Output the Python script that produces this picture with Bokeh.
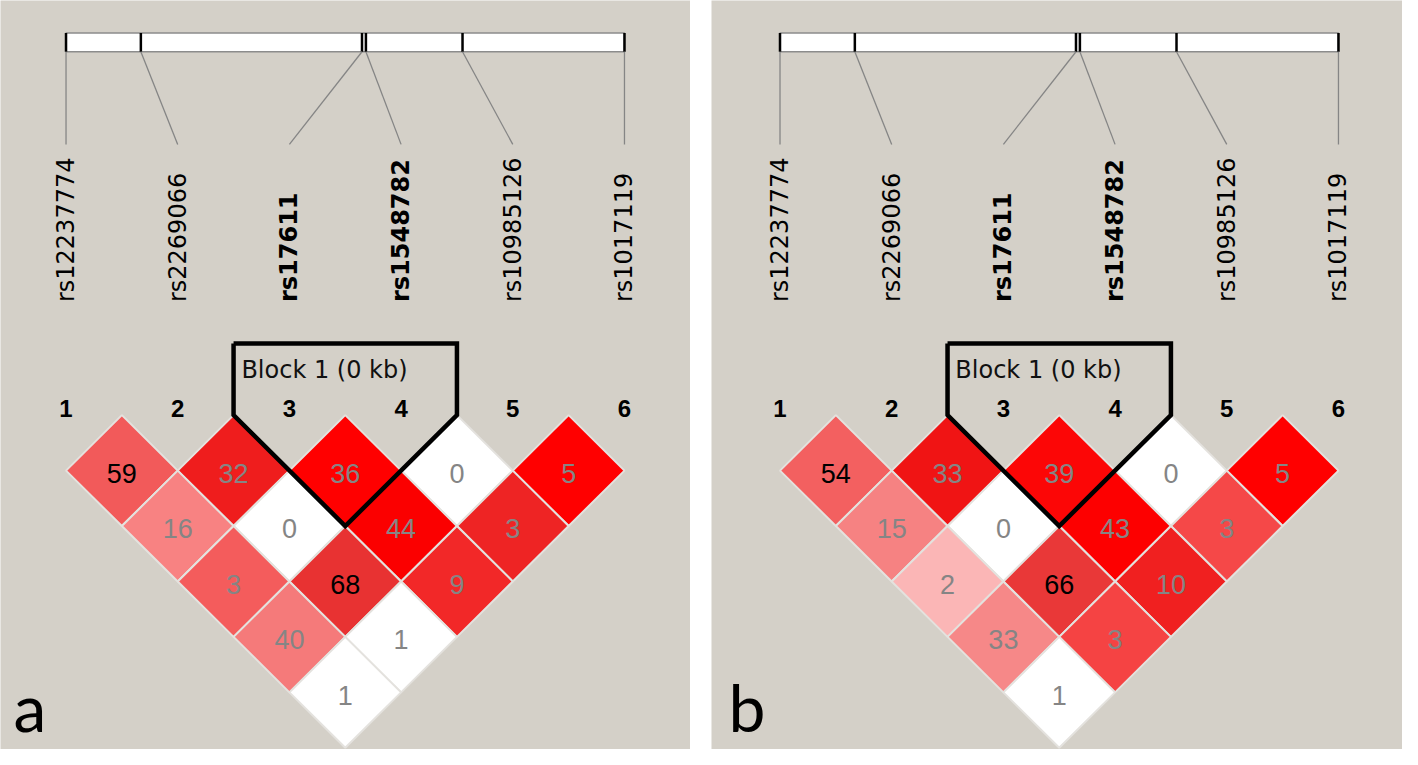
import math
from bokeh.plotting import figure
from bokeh.layouts import row
from bokeh.core.properties import value
from bokeh.embed import file_html
from bokeh.resources import INLINE

# ---------------- data ----------------
snp_index = [1, 2, 3, 4, 5, 6]
snp_names = ["rs12237774", "rs2269066", "rs17611", "rs1548782", "rs10985126", "rs1017119"]
snp_in_block = [False, False, True, True, False, False]
# relative physical position of each marker along the region bar (0 = first, 1 = last)
snp_pos_frac = [0.0, 0.134, 0.530, 0.537, 0.710, 1.0]

pair_i = [1, 2, 3, 4, 5, 1, 2, 3, 4, 1, 2, 3, 1, 2, 1]
pair_j = [2, 3, 4, 5, 6, 3, 4, 5, 6, 4, 5, 6, 5, 6, 6]

ld_a = [59, 32, 36, 0, 5, 16, 0, 44, 3, 3, 68, 9, 40, 1, 1]
ld_color_a = ["#f25a5a", "#ef1d1d", "#ff0000", "#ffffff", "#ff0000",
              "#f88282", "#ffffff", "#fb0000", "#ee2424",
              "#f45c5c", "#e83232", "#f22828",
              "#f57a7a", "#ffffff",
              "#ffffff"]

ld_b = [54, 33, 39, 0, 5, 15, 0, 43, 3, 2, 66, 10, 33, 3, 1]
ld_color_b = ["#f36060", "#f01414", "#fc0606", "#ffffff", "#ff0000",
              "#f68282", "#ffffff", "#fd0000", "#f54848",
              "#fbb6b6", "#e93838", "#f02020",
              "#f68888", "#f54343",
              "#ffffff"]

block_snps = [3, 4]
block_label = "Block 1 (0 kb)"
panel_letters = ["a", "b"]

# ---------------- style / layout ----------------
GRAY = "#d4d0c8"
STEP = 112.5          # reference pixels per marker step
Y0 = 422.75           # reference pixel row of y = 0


def uy(py):
    return (Y0 - py) / STEP


def make_panel(ld, colors, x0_px, x1_px, snp1_px, width, letter, letter_px):
    def ux(px):
        return 1 + (px - snp1_px) / STEP

    p = figure(width=width, height=749,
               x_range=(ux(x0_px), ux(x1_px)), y_range=(uy(762), uy(2)),
               output_backend="svg", toolbar_location=None, min_border=0,
               background_fill_color=GRAY, border_fill_color=GRAY,
               outline_line_color=None)
    p.axis.visible = False
    p.grid.visible = False

    # ---- region bar with marker ticks ----
    bar_top, bar_bot = uy(35), uy(54)
    bar_x = [snp_index[0] + f * (snp_index[-1] - snp_index[0]) for f in snp_pos_frac]
    p.quad(left=[snp_index[0]], right=[snp_index[-1]], bottom=[bar_bot], top=[bar_top],
           fill_color="white", line_color="#8c8c8c", line_width=1.5)
    p.segment(x0=bar_x, y0=[bar_bot] * 6, x1=bar_x, y1=[bar_top] * 6,
              line_color="black", line_width=2.5)
    # connectors to labels
    p.segment(x0=bar_x, y0=[bar_bot] * 6, x1=snp_index, y1=[uy(148)] * 6,
              line_color="#858585", line_width=1.3)

    # ---- marker names (rotated) ----
    for bold in (False, True):
        xs = [x for x, b in zip(snp_index, snp_in_block) if b == bold]
        tx = [t for t, b in zip(snp_names, snp_in_block) if b == bold]
        p.text(x=xs, y=[uy(308)] * len(xs), text=tx, angle=math.pi / 2,
               text_align="left", text_baseline="middle",
               text_font=value("DejaVu Sans"), text_font_size="24px",
               text_font_style="bold" if bold else "normal", text_color="black")

    # ---- marker numbers ----
    p.text(x=snp_index, y=[uy(416)] * 6, text=[str(i) for i in snp_index],
           text_align="center", text_baseline="middle",
           text_font=value("Liberation Sans"), text_font_size="24px",
           text_font_style="bold", text_color="black")

    # ---- LD diamonds ----
    cx = [(i + j) / 2 for i, j in zip(pair_i, pair_j)]
    cy = [-(j - i) / 2 for i, j in zip(pair_i, pair_j)]
    xs = [[x - 0.5, x, x + 0.5, x] for x in cx]
    ys = [[y, y + 0.5, y, y - 0.5] for y in cy]
    p.patches(xs=xs, ys=ys, fill_color=colors, line_color="#e4e2de", line_width=2)
    tcol = ["black" if v >= 50 else "#858585" for v in ld]
    p.text(x=cx, y=[y - 3 / STEP for y in cy], text=[str(v) for v in ld],
           text_color=tcol, text_align="center", text_baseline="middle",
           text_font=value("Liberation Sans"), text_font_size="27px")

    # ---- haplotype block outline ----
    b0, b1 = block_snps
    top = uy(350)
    bx = [b0 - 0.5, b0 - 0.5, (b0 + b1) / 2, b1 + 0.5, b1 + 0.5, b0 - 0.5]
    by = [top, 0, -(b1 - b0) / 2 - 0.5, 0, top, top]
    p.line(bx, by, line_color="black", line_width=4.5, line_join="miter")
    p.text(x=[b0 - 0.5 + 0.07], y=[uy(377)], text=[block_label],
           text_align="left", text_baseline="middle",
           text_font=value("DejaVu Sans"), text_font_size="24px", text_color="#111111")

    # ---- panel letter ----
    p.text(x=[ux(letter_px)], y=[uy(718)], text=[letter], text_align="left",
           text_baseline="middle", text_font=value("Lato"),
           text_font_size="66px", text_color="black")
    return p


pa = make_panel(ld_a, ld_color_a, 2, 697, 68, 690, panel_letters[0], 15)
pb = make_panel(ld_b, ld_color_b, 718, 1414, 787, 691, panel_letters[1], 735)

layout = row(pa, pb, spacing=21)
open("out.html", "w").write(file_html(layout, INLINE))
